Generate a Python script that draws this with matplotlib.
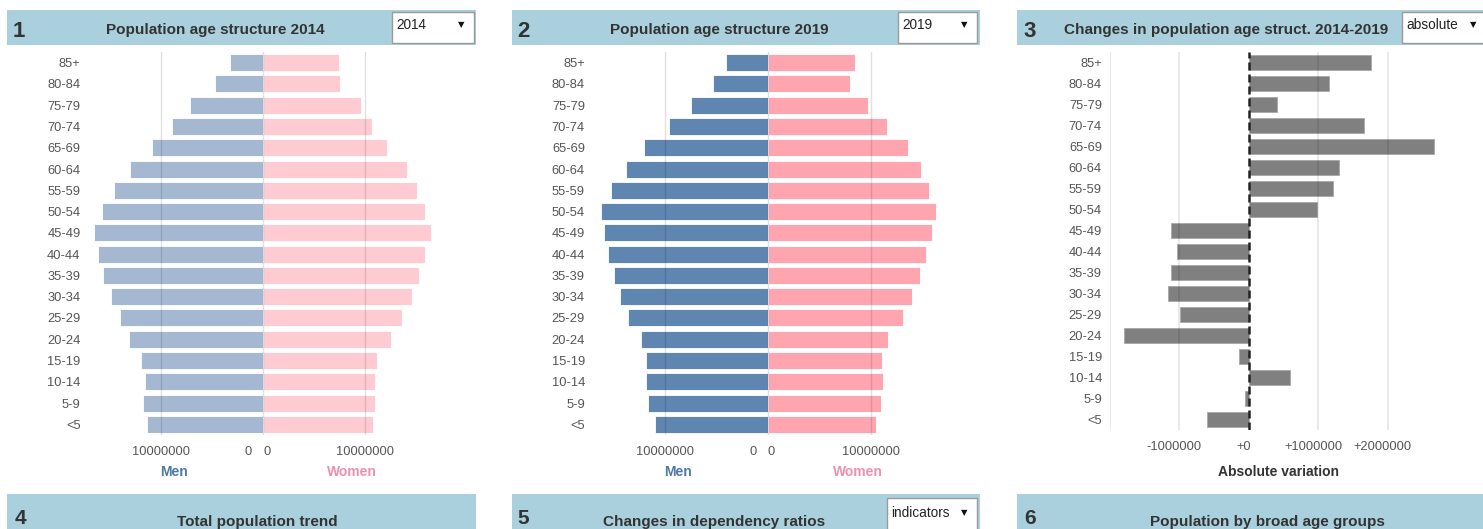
import matplotlib
matplotlib.use("Agg")
import matplotlib.pyplot as plt
from matplotlib.patches import Rectangle
import matplotlib.transforms as mtransforms

# ---------------- data ----------------
ages = ['<5', '5-9', '10-14', '15-19', '20-24', '25-29', '30-34', '35-39', '40-44',
        '45-49', '50-54', '55-59', '60-64', '65-69', '70-74', '75-79', '80-84', '85+']

men_2014 = [11450000, 11750000, 11600000, 11950000, 13200000, 14100000, 14900000, 15700000,
            16200000, 16600000, 15800000, 14600000, 13100000, 10900000, 8900000, 7200000,
            4750000, 3270000]
women_2014 = [10800000, 11000000, 11000000, 11200000, 12550000, 13650000, 14600000, 15300000,
              15950000, 16500000, 15950000, 15100000, 14200000, 12200000, 10700000, 9650000,
              7550000, 7450000]
men_2019 = [11000000, 11650000, 11850000, 11850000, 12370000, 13650000, 14350000, 14950000,
            15600000, 15940000, 16270000, 15230000, 13770000, 12080000, 9670000, 7500000,
            5320000, 4060000]
women_2019 = [10500000, 11000000, 11200000, 11100000, 11650000, 13100000, 14000000, 14820000,
              15400000, 15900000, 16330000, 15700000, 14870000, 13600000, 11560000, 9680000,
              8020000, 8410000]
change_abs = [-600000, -50000, 590000, -144000, -1800000, -990000, -1170000, -1125000,
              -1030000, -1125000, 976000, 1210000, 1300000, 2665000, 1660000, 400000,
              1150000, 1765000]

pyr_ticks = [10000000]
pyr_tick_labels = ['10000000']
chg_grid = [-2000000, -1000000, 1000000, 2000000]
chg_ticks = [-1000000, 0, 1000000, 2000000]
chg_tick_labels = ['-1000000', '+0', '+1000000', '+2000000']

panel_titles = ['Population age structure 2014', 'Population age structure 2019',
                'Changes in population age struct. 2014-2019', 'Total population trend',
                'Changes in dependency ratios', 'Population by broad age groups']
dropdowns = ['2014', '2019', 'absolute', None, 'indicators', None]

# ---------------- style ----------------
W, H = 1483, 529
NARROW = ['Liberation Sans Narrow', 'Liberation Sans', 'DejaVu Sans']
SANS = ['Liberation Sans', 'DejaVu Sans']
BAND = '#a9d0dc'
TXT = '#333333'
TICK = '#555555'
GRID = (0, 0, 0, 0.12)
FS_TICK = 9.3

fig = plt.figure(figsize=(W / 100, H / 100), dpi=100)


def rect(x0, y0, x1, y1):
    return [x0 / W, 1 - y1 / H, (x1 - x0) / W, (y1 - y0) / H]


def fx(x):
    return x / W


def fy(y):
    return 1 - y / H


# ---------------- header bands ----------------
bands = [(7, 10, 476, 45), (512, 10, 980, 45), (1017, 10, 1483, 45),
         (7, 494, 476, 529), (512, 494, 980, 529), (1017, 494, 1483, 529)]
num_x = [19, 523, 1030, 20, 523, 1030]
title_x = [215, 719, 1226, 257, 714, 1267]
dd_boxes = [(392, 12, 474, 43), (898, 12, 977, 43), (1402, 12, 1490, 43), None,
            (887, 498, 977, 535), None]

for i, (x0, y0, x1, y1) in enumerate(bands):
    fig.patches.append(Rectangle((fx(x0), fy(y1)), (x1 - x0) / W, (y1 - y0) / H,
                                 transform=fig.transFigure, facecolor=BAND,
                                 edgecolor='none', zorder=0))
    if i < 3:
        fig.text(fx(num_x[i]), fy(37), str(i + 1), family=NARROW, fontsize=16,
                 fontweight='bold', color=TXT, ha='center', va='baseline')
        fig.text(fx(title_x[i]), fy(34), panel_titles[i], family=NARROW, fontsize=11,
                 fontweight='bold', color=TXT, ha='center', va='baseline')
    else:
        fig.text(fx(num_x[i]), fy(528.5), str(i + 1), family=NARROW, fontsize=15,
                 fontweight='bold', color=TXT, ha='center', va='bottom')
        fig.text(fx(title_x[i]), fy(526), panel_titles[i], family=NARROW, fontsize=11,
                 fontweight='bold', color=TXT, ha='center', va='baseline')
    if dd_boxes[i] is not None:
        bx0, by0, bx1, by1 = dd_boxes[i]
        fig.patches.append(Rectangle((fx(bx0), fy(by1)), (bx1 - bx0) / W, (by1 - by0) / H,
                                     transform=fig.transFigure, facecolor='white',
                                     edgecolor='#9a9a9a', linewidth=1, zorder=1))
        tb = 29 if i < 3 else 517
        fig.text(fx(bx0 + 4), fy(tb), dropdowns[i], family=SANS, fontsize=9.8,
                 color='#222222', ha='left', va='baseline', zorder=2)
        ax_x = bx1 - 13 if i != 2 else 1473
        fig.text(fx(ax_x), fy(tb - 4), '\u25BC', family=['DejaVu Sans'], fontsize=6,
                 color='#111111', ha='center', va='center', zorder=2)

ypos = list(range(len(ages)))


# ---------------- pyramids ----------------
def pyramid(axrect, men, women, cmen, cwomen, lab_pad):
    ax = fig.add_axes(axrect)
    ax.barh(ypos, [-m for m in men], height=0.8, color=cmen, edgecolor='white',
            linewidth=0.6, zorder=2)
    ax.barh(ypos, women, height=0.8, color=cwomen, edgecolor='white',
            linewidth=0.6, zorder=2)
    ax.set_xlim(-17500000, 17500000)
    ax.set_ylim(-0.5, len(ages) - 0.5)
    for g in [-10000000, 0, 10000000]:
        ax.axvline(g, color=GRID, linewidth=1, zorder=3)
    ax.set_yticks(ypos)
    ax.set_yticklabels(ages, family=NARROW, fontsize=FS_TICK, color=TICK)
    ax.set_xticks([-pyr_ticks[0], pyr_ticks[0]])
    ax.set_xticklabels(pyr_tick_labels * 2, family=NARROW, fontsize=FS_TICK, color=TICK)
    ax.tick_params(axis='both', length=0)
    ax.tick_params(axis='y', pad=lab_pad)
    ax.tick_params(axis='x', pad=8.2)
    for s in ax.spines.values():
        s.set_visible(False)
    ax.set_facecolor('none')
    ax.annotate('0', xy=(0, 0), xycoords=('data', 'axes fraction'), xytext=(-11, -8.2 * 100 / 72),
                textcoords='offset pixels', ha='right', va='top', family=NARROW,
                fontsize=FS_TICK, color=TICK)
    ax.annotate('0', xy=(0, 0), xycoords=('data', 'axes fraction'), xytext=(0, -8.2 * 100 / 72),
                textcoords='offset pixels', ha='left', va='top', family=NARROW,
                fontsize=FS_TICK, color=TICK)
    off = mtransforms.ScaledTranslation(0, -37 / 100, fig.dpi_scale_trans)
    ax.text(0.25, 0, 'Men', transform=ax.transAxes + off,
            ha='center', va='center', family=NARROW, fontsize=10, fontweight='bold',
            color='#4e78a8')
    ax.text(0.75, 0, 'Women', transform=ax.transAxes + off,
            ha='center', va='center', family=NARROW, fontsize=10, fontweight='bold',
            color='#ec8fb0')
    return ax


pyramid(rect(85, 52, 441, 435), men_2014, women_2014, '#a4b9d1', '#ffcbd2', 3.2)
pyramid(rect(588, 52, 948, 435), men_2019, women_2019, '#5f86b0', '#ffa5b0', 2.2)

# ---------------- changes ----------------
ax3 = fig.add_axes(rect(1110, 52, 1457, 430))
ax3.barh(ypos, change_abs, height=0.74, color='#808080', edgecolor='#a8a8a8',
         linewidth=0.6, zorder=2)
ax3.set_xlim(-2000000, 3000000)
ax3.set_ylim(-0.5, len(ages) - 0.5)
for g in chg_grid:
    ax3.axvline(g, color=(0, 0, 0, 0.1), linewidth=1.2, zorder=3)
ax3.axvline(0, color='#222222', linewidth=1.8, linestyle=(0, (3.2, 1.6)), zorder=4)
ax3.set_yticks(ypos)
ax3.set_yticklabels(ages, family=NARROW, fontsize=FS_TICK, color=TICK)
ax3.set_xticks(chg_ticks)
ax3.set_xticklabels(chg_tick_labels, family=NARROW, fontsize=FS_TICK, color=TICK)
ax3.tick_params(axis='both', length=0)
ax3.tick_params(axis='y', pad=5.8)
ax3.tick_params(axis='x', pad=8.0)
shift = mtransforms.ScaledTranslation(-5 / 100, 0, fig.dpi_scale_trans)
for lab in ax3.get_xticklabels():
    lab.set_transform(lab.get_transform() + shift)
for s in ax3.spines.values():
    s.set_visible(False)
ax3.set_facecolor('none')
fig.text(fx(1278), fy(472), 'Absolute variation', family=NARROW, fontsize=10,
         fontweight='bold', color=TXT, ha='center', va='center')

fig.savefig('out.png', dpi=100, facecolor='white')
